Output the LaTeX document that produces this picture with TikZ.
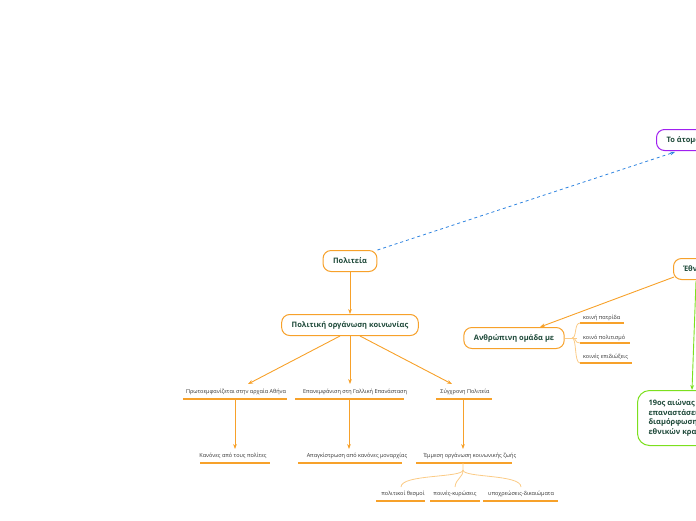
\documentclass[tikz,border=0pt]{standalone}
\usepackage{fontspec}
\setmainfont{Open Sans}
\usetikzlibrary{arrows.meta}
\definecolor{txtgreen}{HTML}{1F4A3A}
\definecolor{mmorange}{HTML}{F7A12A}
\definecolor{mmlight}{HTML}{FBCB86}
\definecolor{mmblue}{HTML}{2F84E0}
\definecolor{mmpurple}{HTML}{A020F0}
\definecolor{mmgreen}{HTML}{7CE01E}
\tikzset{
  topic/.style={draw=mmorange,line width=1pt,rounded corners=8pt,fill=white,text=txtgreen,
    font=\fontsize{7.5}{9}\selectfont\bfseries,minimum height=21pt,inner xsep=10pt},
  leaf/.style={text=black!80,font=\fontsize{5.5}{6.5}\selectfont,inner sep=1pt},
  uline/.style={draw=mmorange,line width=1.3pt},
  link/.style={draw=mmorange,line width=0.9pt,-{Stealth[length=5pt]}},
  soft/.style={draw=mmlight,line width=0.8pt}
}
\begin{document}
\begin{tikzpicture}[x=1pt,y=-1pt]
  \useasboundingbox (0,0) rectangle (696,520);
  \clip (0,0) rectangle (696,520);

  % Politeia side
  \node[topic] (pol) at (350,261) {Πολιτεία};
  \node[topic] (org) at (350,325) {Πολιτική οργάνωση κοινωνίας};

  \node[leaf] (a1) at (236,392) {Πρωτοεμφανίζεται στην αρχαία Αθήνα};
  \node[leaf] (a2) at (355,392) {Επανεμφάνιση στη Γαλλική Επανάσταση};
  \node[leaf] (a3) at (465,392) {Σύγχρονη Πολιτεία};
  \draw[uline] (183,399) -- (287,399);
  \draw[uline] (295,399) -- (404,399);
  \draw[uline] (436,399) -- (492,399);

  \node[leaf] (b1) at (233,456) {Κανόνες από τους πολίτες};
  \node[leaf] (b2) at (357,456) {Απαγκίστρωση από κανόνες μοναρχίας};
  \node[leaf] (b3) at (470,456) {Έμμεση οργάνωση κοινωνικής ζωής};
  \draw[uline] (200,463) -- (270,463);
  \draw[uline] (298,463) -- (402,463);
  \draw[uline] (416,463) -- (512,463);

  \node[leaf] (c1) at (403,494) {πολιτικοί θεσμοί};
  \node[leaf] (c2) at (455,494) {ποινές-κυρώσεις};
  \node[leaf] (c3) at (521,494) {υποχρεώσεις-δικαιώματα};
  \draw[uline] (376,501) -- (425,501);
  \draw[uline] (430,501) -- (480,501);
  \draw[uline] (483,501) -- (558,501);

  \draw[link] (pol) -- (org);
  \draw[link] (org.south) ++(-10,0) -- (248,384);
  \draw[link] (org.south) -- (350,384);
  \draw[link] (org.south) ++(10,0) -- (452,384);
  \draw[link] (235,399) -- (235,449);
  \draw[link] (349,399) -- (349,449);
  \draw[link] (463,399) -- (463,449);

  \draw[soft] (463,463) -- (463,470) .. controls (463,478) and (401,474) .. (401,487);
  \draw[soft] (463,470) .. controls (463,478) and (456,478) .. (455,487);
  \draw[soft] (463,470) .. controls (463,478) and (521,474) .. (521,487);

  % right side
  \node[topic,draw=mmpurple,anchor=west] (atomo) at (656,140) {Το άτομο};
  \draw[mmblue,dashed,thick,-{Stealth[length=5pt]}] (pol.north east) -- (675,152);

  \node[topic,anchor=west] (ethnos) at (673,269) {Έθνος};
  \node[topic] (omada) at (514,338) {Ανθρώπινη ομάδα με};
  \draw[link] (ethnos.west) ++(1,8) -- (540,327);

  \node[leaf,anchor=west] (d1) at (582,318) {κοινή πατρίδα};
  \node[leaf,anchor=west] (d2) at (582,338) {κοινό πολιτισμό};
  \node[leaf,anchor=west] (d3) at (582,357) {κοινές επιδιώξεις};
  \draw[uline] (580,323) -- (624,323);
  \draw[uline] (580,343) -- (630,343);
  \draw[uline] (580,363) -- (632,363);
  \draw[soft] (omada.east) -- (577,338);
  \draw[soft] (572,338) .. controls (577,338) and (574,323) .. (580,323);
  \draw[soft] (572,338) .. controls (577,338) and (574,343) .. (580,343);
  \draw[soft] (572,338) .. controls (577,338) and (574,363) .. (580,363);

  \node[draw=mmgreen,line width=1pt,rounded corners=12pt,fill=white,text=txtgreen,
    font=\fontsize{7.5}{9.5}\selectfont\bfseries,align=left,anchor=north west,
    minimum height=55pt,inner xsep=11pt] (aionas) at (637,390)
    {19ος αιώνας\\επαναστάσεις\\διαμόρφωση\\εθνικών κρατών};
  \draw[mmgreen,line width=0.9pt,-{Stealth[length=5pt]}] (696,281) -- (692,390);
\end{tikzpicture}
\end{document}
